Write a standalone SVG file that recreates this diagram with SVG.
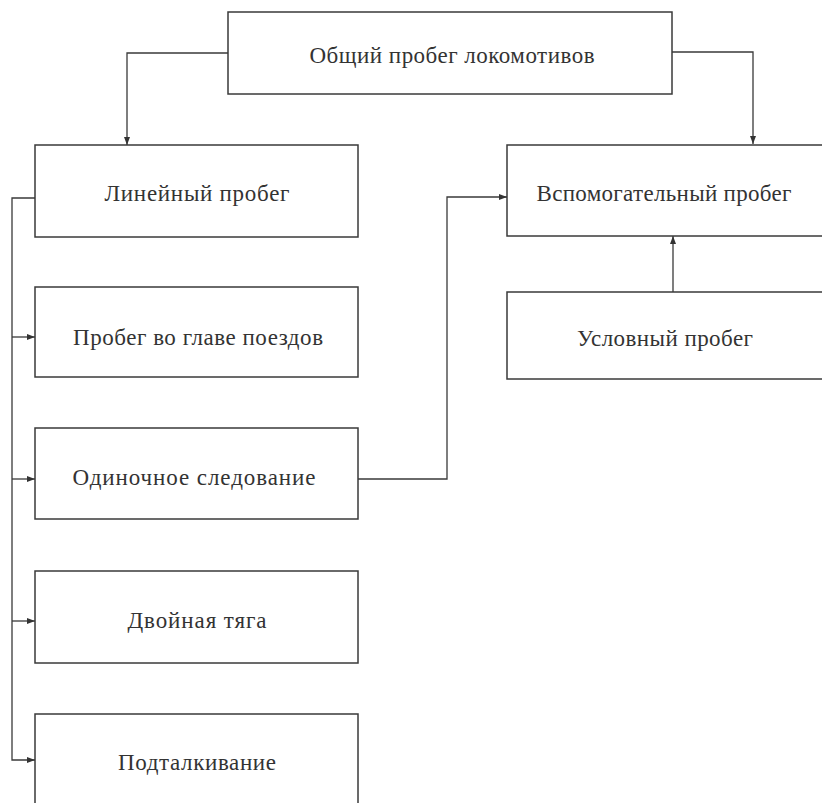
<svg xmlns="http://www.w3.org/2000/svg" width="822" height="803" viewBox="0 0 822 803">
<defs>
<style>
.box{fill:#fff;stroke:#3a3a3a;stroke-width:1.5}
.lbl{font-family:"Liberation Serif","Times New Roman",serif;font-size:23px;fill:#333;text-anchor:middle;dominant-baseline:central}
.con{fill:none;stroke:#3a3a3a;stroke-width:1.3}
</style>
<marker id="arr" markerWidth="8" markerHeight="6" refX="8" refY="3" orient="auto" markerUnits="userSpaceOnUse">
<path d="M0,0 L8,3 L0,6 Z" fill="#333"/>
</marker>
</defs>
<rect width="822" height="803" fill="#fff"/>
<g id="connectors">
<path class="con" d="M228,53 H127 V145" marker-end="url(#arr)"/>
<path class="con" d="M672,52 H753 V144" marker-end="url(#arr)"/>
<path class="con" d="M35,198 H12 V760 H35" marker-end="url(#arr)"/>
<path class="con" d="M12,337 H35" marker-end="url(#arr)"/>
<path class="con" d="M12,479 H35" marker-end="url(#arr)"/>
<path class="con" d="M12,621 H35" marker-end="url(#arr)"/>
<path class="con" d="M358,479 H447 V197 H507" marker-end="url(#arr)"/>
<path class="con" d="M673,292 V236" marker-end="url(#arr)"/>
</g>
<g id="n-total">
<rect class="box" x="228" y="12" width="444" height="82"/>
<text class="lbl" x="452" y="55" textLength="285" lengthAdjust="spacing">Общий пробег локомотивов</text>
</g>
<g id="n-linear">
<rect class="box" x="35" y="145" width="323" height="92"/>
<text class="lbl" x="197" y="193" textLength="185" lengthAdjust="spacing">Линейный пробег</text>
</g>
<g id="n-aux">
<rect class="box" x="507" y="145" width="318" height="91"/>
<text class="lbl" x="664" y="193" textLength="255" lengthAdjust="spacing">Вспомогательный пробег</text>
</g>
<g id="n-cond">
<rect class="box" x="507" y="292" width="318" height="87"/>
<text class="lbl" x="665" y="338" textLength="176" lengthAdjust="spacing">Условный пробег</text>
</g>
<g id="n-head">
<rect class="box" x="35" y="287" width="323" height="90"/>
<text class="lbl" x="198" y="337" textLength="250" lengthAdjust="spacing">Пробег во главе поездов</text>
</g>
<g id="n-single">
<rect class="box" x="35" y="428" width="323" height="91"/>
<text class="lbl" x="194" y="477" textLength="243" lengthAdjust="spacing">Одиночное следование</text>
</g>
<g id="n-double">
<rect class="box" x="35" y="571" width="323" height="92"/>
<text class="lbl" x="197" y="620" textLength="139" lengthAdjust="spacing">Двойная тяга</text>
</g>
<g id="n-push">
<rect class="box" x="35" y="714" width="323" height="95"/>
<text class="lbl" x="197" y="762" textLength="158" lengthAdjust="spacing">Подталкивание</text>
</g>
</svg>
